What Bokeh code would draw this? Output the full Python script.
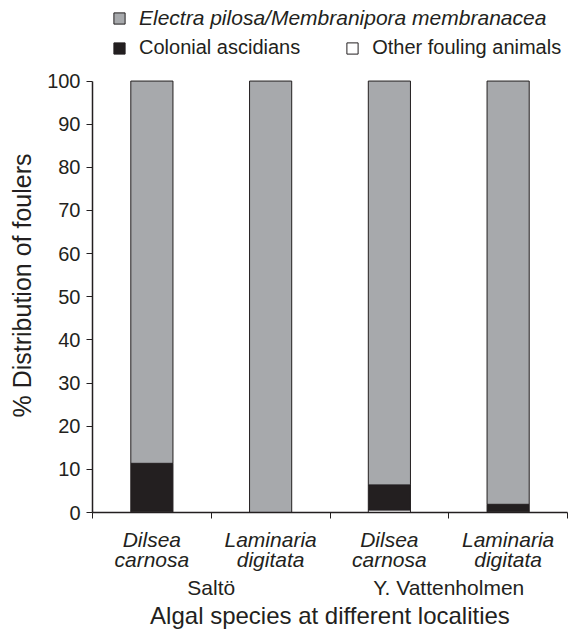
from bokeh.plotting import figure
from bokeh.layouts import column
from bokeh.models import (Range1d, LinearAxis, FixedTicker, Legend, LegendItem,
                          ColumnDataSource)
from bokeh.embed import file_html
from bokeh.resources import INLINE

# ---- data ----
species = ["Dilsea\ncarnosa", "Laminaria\ndigitata", "Dilsea\ncarnosa", "Laminaria\ndigitata"]
localities = ["Saltö", "Y. Vattenholmen"]
other_fouling = [0.3, 0.0, 0.6, 0.3]
colonial_ascidians = [11.1, 0.0, 5.8, 1.6]
electra_membranipora = [88.6, 100.0, 93.6, 98.1]
y_ticks = [0, 10, 20, 30, 40, 50, 60, 70, 80, 90, 100]
series_names = ["Electra pilosa/Membranipora membranacea", "Colonial ascidians",
                "Other fouling animals"]

FONT = "Liberation Sans"
GRAY = "#a7a9ac"
DARK = "#231f20"

# layout (pixels)
W = 575
LEG_H = 58                    # legend strip on top
H = 631 - LEG_H               # main chart
LEFT, RIGHT, BOTTOM = 92, 8, 116
FRAME_H = H - BOTTOM
PLOT_H = 434.3                # pixels spanned by 0..100 %
n = len(species)
y_top = 100 * FRAME_H / PLOT_H

xs = [i + 0.5 for i in range(n)]
src = ColumnDataSource(dict(x=xs, other=other_fouling, asc=colonial_ascidians,
                            ele=electra_membranipora))
stack = ["other", "asc", "ele"]
fills = ["white", DARK, GRAY]

p = figure(width=W, height=H, output_backend="svg", toolbar_location=None,
           x_range=Range1d(0, n), y_range=Range1d(0, y_top),
           x_axis_type=None, y_axis_type=None,
           min_border_left=LEFT, min_border_right=RIGHT, min_border_top=0,
           min_border_bottom=BOTTOM)
p.outline_line_color = None
p.xgrid.visible = False
p.ygrid.visible = False
p.background_fill_color = "white"
p.border_fill_color = "white"

rs = p.vbar_stack(stack, x="x", width=0.355, source=src,
                  fill_color=fills, line_color=DARK, line_width=1)

# ---- y axis ----
yax = LinearAxis(ticker=FixedTicker(ticks=y_ticks), bounds=(0, 100))
yax.axis_label = "% Distribution of foulers"
yax.axis_label_text_font = FONT
yax.axis_label_text_font_size = "25px"
yax.axis_label_text_font_style = "normal"
yax.axis_label_text_color = DARK
yax.axis_label_standoff = 8
yax.major_label_text_font = FONT
yax.major_label_text_font_size = "20px"
yax.major_label_text_color = DARK
yax.major_label_standoff = 6
yax.major_tick_in = 0
yax.major_tick_out = 6
yax.minor_tick_in = 0
yax.minor_tick_out = 0
yax.axis_line_color = DARK
yax.major_tick_line_color = DARK
yax.axis_line_width = 1.5
p.add_layout(yax, "left")

# ---- x axis: species labels at centres, tick marks at boundaries ----
xax = LinearAxis(ticker=FixedTicker(ticks=xs, minor_ticks=list(range(n + 1))))
xax.major_label_overrides = {x: s for x, s in zip(xs, species)}
xax.major_label_text_font = FONT
xax.major_label_text_font_size = "21px"
xax.major_label_text_font_style = "italic"
xax.major_label_text_line_height = 0.88
xax.major_label_text_color = DARK
xax.major_label_standoff = 9
xax.major_tick_in = 0
xax.major_tick_out = 0
xax.minor_tick_in = 0
xax.minor_tick_out = 6
xax.minor_tick_line_color = DARK
xax.axis_line_color = DARK
xax.axis_line_width = 1.5
p.add_layout(xax, "below")

# ---- x axis: localities + title ----
loc_x = [1, 3]
lax = LinearAxis(ticker=FixedTicker(ticks=loc_x))
lax.major_label_overrides = {x: s for x, s in zip(loc_x, localities)}
lax.major_label_text_font = FONT
lax.major_label_text_font_size = "21px"
lax.major_label_text_color = DARK
lax.major_label_standoff = 2
lax.major_tick_in = 0
lax.major_tick_out = 0
lax.minor_tick_out = 0
lax.minor_tick_in = 0
lax.axis_line_color = None
lax.axis_label = "Algal species at different localities"
lax.axis_label_text_font = FONT
lax.axis_label_text_font_size = "24px"
lax.axis_label_text_font_style = "normal"
lax.axis_label_text_color = DARK
lax.axis_label_standoff = 0
p.add_layout(lax, "below")

# ---- legend strip (its frame is aligned with the chart's frame) ----
lf = figure(width=W, height=LEG_H, output_backend="svg", toolbar_location=None,
            x_range=Range1d(0, n), y_range=Range1d(0, y_top),
            x_axis_type=None, y_axis_type=None, min_border=0,
            min_border_left=LEFT, min_border_right=RIGHT)
lf.outline_line_color = None
lf.xgrid.visible = False
lf.ygrid.visible = False
lr = lf.vbar_stack(stack, x="x", width=0.355, source=src, fill_color=fills,
                   line_color=DARK, line_width=1, visible=False)

def make_legend(items, italic, size, spacing, loc):
    return Legend(items=items, location=loc, orientation="horizontal",
                  label_text_font=FONT, label_text_font_size=size,
                  label_text_font_style="italic" if italic else "normal",
                  label_text_color=DARK, glyph_width=14, glyph_height=14,
                  label_standoff=13, spacing=spacing, padding=0, margin=0,
                  label_height=20, border_line_color=None,
                  background_fill_alpha=0, inactive_fill_alpha=0)

leg1 = make_legend([LegendItem(label=series_names[0], renderers=[lr[2]])],
                   True, "21px", 0, (112 - LEFT, LEG_H - 29.5))
leg2 = make_legend([LegendItem(label=series_names[1], renderers=[lr[1]]),
                    LegendItem(label=series_names[2], renderers=[lr[0]])],
                   False, "20px", 45, (112 - LEFT, LEG_H - 59))
lf.add_layout(leg1, "center")
lf.add_layout(leg2, "center")

layout = column(lf, p, spacing=0)
open("out.html", "w").write(file_html(layout, INLINE))
